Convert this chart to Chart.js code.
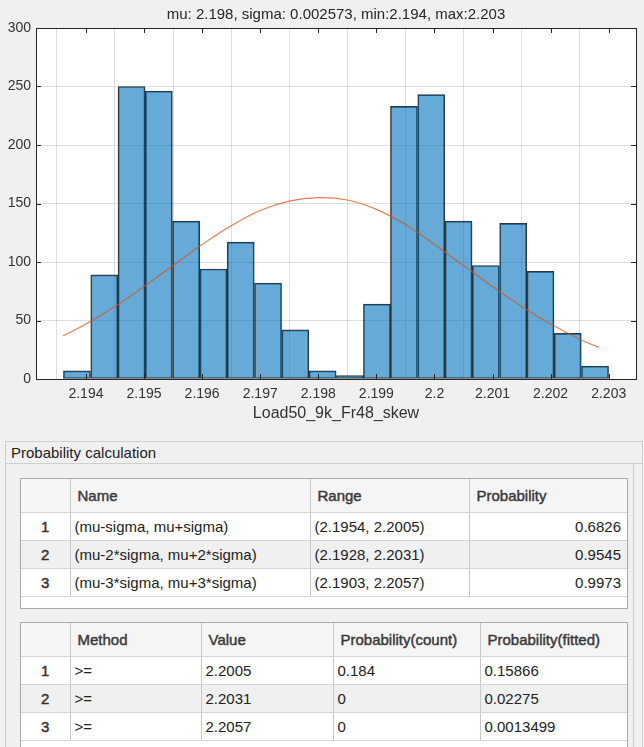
<!DOCTYPE html>
<html>
<head>
<meta charset="utf-8">
<script src="https://cdn.jsdelivr.net/npm/chart.js@4.4.1/dist/chart.umd.min.js"></script>
<style>
  html, body { margin: 0; padding: 0; background: #f0f0f0; }
  body { width: 644px; height: 747px; position: relative; overflow: hidden; font-family: "Liberation Sans", Arial, sans-serif; }
  #chartBox { position: absolute; left: 0; top: 0; width: 644px; height: 436px; }
  .panel { position: absolute; left: 5px; top: 441px; width: 636px; height: 320px; border: 1px solid #cfcfcf; border-bottom: none; }
  .panelTitle { height: 21px; line-height: 21px; padding-left: 5px; font-size: 15px; color: #222; border-bottom: 1px solid #cfcfcf; }
  .panelInner { position: absolute; left: 0; top: 22px; width: 627px; height: 300px; border-right: 1px solid #cfcfcf; }
  .tbl { position: absolute; left: 14px; width: 606px; background: #fff; border: 1px solid #a8a8a8; }
  .tbl table { border-collapse: collapse; table-layout: fixed; width: 606px; font-size: 15px; color: #222; }
  .tbl td, .tbl th { border-right: 1px solid #c8c8c8; border-bottom: 1px solid #d6d6d6; padding: 0 6px 0 4px; white-space: nowrap; overflow: hidden; }
  .tbl th { height: 33px; background: #f5f5f5; text-align: left; font-weight: normal; -webkit-text-stroke: 0.45px #3a3a3a; color: #3a3a3a; padding-left: 7px; }
  .tbl td { height: 27px; }
  .tbl tr.alt td { background: #f0f0f0; }
  .tbl td.num { text-align: center; font-weight: normal; -webkit-text-stroke: 0.45px #333; color: #333; padding: 0; }
  .tbl td.r { text-align: right; }
  .tbl td:last-child, .tbl th:last-child { border-right: none; }
</style>
</head>
<body>
<div id="chartBox"><canvas id="histChart"></canvas></div>

<div class="panel">
  <div class="panelTitle">Probability calculation</div>
  <div class="panelInner">
    <div class="tbl" id="tbl1" style="top:14px; height:129px;"></div>
    <div class="tbl" id="tbl2" style="top:158px; height:160px;"></div>
  </div>
</div>

<script>
// histogram bins (edges) and counts
const binEdges = [2.19361, 2.19408, 2.19455, 2.19502, 2.19549, 2.19596, 2.19643, 2.19690, 2.19737, 2.19784,
                  2.19831, 2.19878, 2.19924, 2.19971, 2.20018, 2.20065, 2.20112, 2.20159, 2.20206, 2.20253, 2.20300];
const binCounts = [7, 89, 250, 246, 135, 94, 117, 82, 42, 7, 3, 64, 233, 243, 135, 97, 133, 92, 39, 11];

// fitted normal curve
const fitX = [2.19361, 2.1940, 2.1945, 2.1950, 2.1955, 2.1960, 2.1965, 2.1970, 2.1975, 2.1980,
              2.1985, 2.1990, 2.1995, 2.2000, 2.2005, 2.2010, 2.2015, 2.2020, 2.2025, 2.20283];
const fitY = [37, 47, 62, 79, 97, 115, 131, 144, 152, 155, 153, 145, 132, 115, 97, 79, 62, 47, 34, 27];

const xTickValues = [2.194, 2.195, 2.196, 2.197, 2.198, 2.199, 2.2, 2.201, 2.202, 2.203];
const xTickLabels = ['2.194', '2.195', '2.196', '2.197', '2.198', '2.199', '2.2', '2.201', '2.202', '2.203'];
const yTickValues = [0, 50, 100, 150, 200, 250, 300];

const chartTitle = 'mu: 2.198, sigma: 0.002573, min:2.194, max:2.203';
const xLabel = 'Load50_9k_Fr48_skew';

// probability tables
const rangeNames = ['(mu-sigma, mu+sigma)', '(mu-2*sigma, mu+2*sigma)', '(mu-3*sigma, mu+3*sigma)'];
const rangeText = ['(2.1954, 2.2005)', '(2.1928, 2.2031)', '(2.1903, 2.2057)'];
const rangeProb = ['0.6826', '0.9545', '0.9973'];

const methods = ['>=', '>=', '>='];
const methodValues = ['2.2005', '2.2031', '2.2057'];
const probCount = ['0.184', '0', '0'];
const probFitted = ['0.15866', '0.02275', '0.0013499'];

const histData = binCounts.map((c, i) => ({ x: (binEdges[i] + binEdges[i + 1]) / 2, y: c }));
const fitData = fitX.map((x, i) => ({ x: x, y: fitY[i] }));

const axisColor = '#262626';

// white plot area, box and inward ticks like the original figure
const axesBox = {
  id: 'axesBox',
  beforeDraw(chart) {
    const a = chart.chartArea, ctx = chart.ctx;
    ctx.save();
    ctx.fillStyle = '#ffffff';
    ctx.fillRect(a.left, a.top, a.right - a.left, a.bottom - a.top);
    ctx.restore();
  },
  afterDatasetsDraw(chart) {
    const a = chart.chartArea, ctx = chart.ctx;
    const xs = chart.scales.x, ys = chart.scales.y;
    ctx.save();
    ctx.strokeStyle = axisColor;
    ctx.lineWidth = 1;
    ctx.beginPath();
    xTickValues.forEach(v => {
      const px = Math.round(xs.getPixelForValue(v)) + 0.5;
      ctx.moveTo(px, a.bottom); ctx.lineTo(px, a.bottom - 5);
      ctx.moveTo(px, a.top); ctx.lineTo(px, a.top + 5);
    });
    yTickValues.forEach(v => {
      const py = Math.round(ys.getPixelForValue(v)) + 0.5;
      ctx.moveTo(a.left, py); ctx.lineTo(a.left + 5, py);
      ctx.moveTo(a.right, py); ctx.lineTo(a.right - 5, py);
    });
    ctx.stroke();
    ctx.strokeRect(Math.round(a.left) + 0.5, Math.round(a.top) + 0.5,
                   Math.round(a.right - a.left), Math.round(a.bottom - a.top));
    ctx.restore();
  }
};

new Chart(document.getElementById('histChart'), {
  data: {
    datasets: [{
      type: 'line',
      data: fitData,
      borderColor: 'rgba(217, 83, 25, 0.75)',
      borderWidth: 1.2,
      pointRadius: 0,
      tension: 0.4,
      order: 0
    }, {
      type: 'bar',
      data: histData,
      backgroundColor: 'rgba(0, 114, 189, 0.6)',
      borderColor: 'rgba(0, 0, 0, 0.8)',
      borderWidth: 1,
      borderSkipped: false,
      barPercentage: 1,
      categoryPercentage: 1,
      grouped: false,
      order: 1
    }]
  },
  options: {
    responsive: true,
    maintainAspectRatio: false,
    animation: false,
    layout: { padding: { left: 0, right: 8, top: 0, bottom: 0 } },
    plugins: {
      legend: { display: false },
      tooltip: { enabled: false },
      title: {
        display: true,
        text: chartTitle,
        fullSize: false,
        color: axisColor,
        font: { family: 'Liberation Sans', size: 15, weight: 'normal' },
        padding: { top: 6, bottom: 4 }
      }
    },
    scales: {
      x: {
        type: 'linear',
        min: 2.19314,
        max: 2.20347,
        offset: false,
        afterBuildTicks: s => { s.ticks = xTickValues.map(v => ({ value: v })); },
        afterFit: s => { s.height = 57; },
        ticks: {
          color: '#333',
          padding: 7,
          maxRotation: 0,
          autoSkip: false,
          font: { family: 'Liberation Sans', size: 14 },
          callback: (v, i) => xTickLabels[i]
        },
        grid: { color: 'rgba(38,38,38,0.15)', drawTicks: false },
        border: { display: false },
        title: {
          display: true,
          text: xLabel,
          color: '#333',
          font: { family: 'Liberation Sans', size: 16 },
          padding: { top: 0, bottom: 13 }
        }
      },
      y: {
        min: 0,
        max: 300,
        afterBuildTicks: s => { s.ticks = yTickValues.map(v => ({ value: v })); },
        afterFit: s => { s.width = 36; },
        ticks: {
          color: '#333',
          padding: 5,
          font: { family: 'Liberation Sans', size: 14 }
        },
        grid: { color: 'rgba(38,38,38,0.15)', drawTicks: false },
        border: { display: false }
      }
    }
  },
  plugins: [axesBox]
});

// tables below the chart
function buildTable(el, widths, headers, rows, rightCols) {
  let h = '<table><colgroup>' + widths.map(w => '<col style="width:' + w + 'px">').join('') + '</colgroup>';
  h += '<tr>' + headers.map(t => '<th>' + t + '</th>').join('') + '</tr>';
  rows.forEach((r, i) => {
    h += '<tr' + (i % 2 === 1 ? ' class="alt"' : '') + '><td class="num">' + (i + 1) + '</td>';
    r.forEach((c, j) => {
      h += '<td' + (rightCols.includes(j) ? ' class="r"' : '') + '>' + c.replace(/>/g, '&gt;') + '</td>';
    });
    h += '</tr>';
  });
  el.innerHTML = h + '</table>';
}

buildTable(document.getElementById('tbl1'), [49, 240, 159, 158],
  ['', 'Name', 'Range', 'Probability'],
  rangeNames.map((n, i) => [n, rangeText[i], rangeProb[i]]), [2]);

buildTable(document.getElementById('tbl2'), [49, 131, 132, 147, 147],
  ['', 'Method', 'Value', 'Probability(count)', 'Probability(fitted)'],
  methods.map((m, i) => [m, methodValues[i], probCount[i], probFitted[i]]), []);
</script>
</body>
</html>
